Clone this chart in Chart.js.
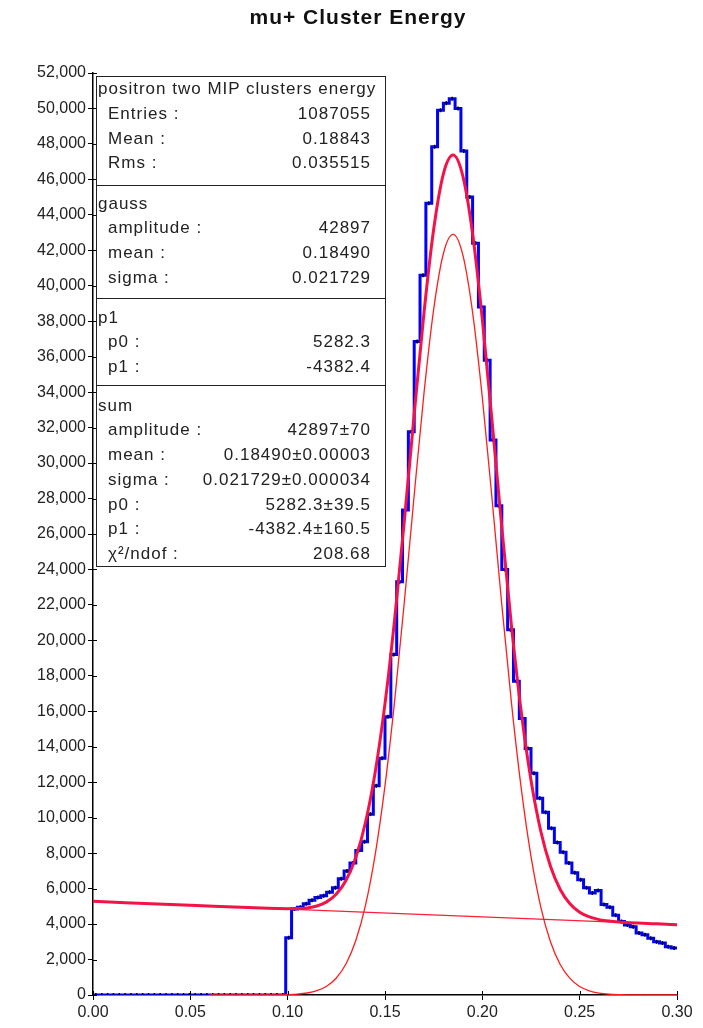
<!DOCTYPE html>
<html>
<head>
<meta charset="utf-8">
<title>mu+ Cluster Energy</title>
<script src="https://cdn.jsdelivr.net/npm/chart.js@4.4.1/dist/chart.umd.min.js"></script>
<style>
  body { margin: 0; background: #fff; }
  #wrap { position: relative; width: 703px; height: 1028px; font-family: "Liberation Sans", Arial, sans-serif; }
  #title { position: absolute; left: 0; width: 716px; top: 5px; text-align: center;
           font-weight: bold; font-size: 21px; letter-spacing: 1px; color: #111; }
  #stats { position: absolute; left: 96px; top: 76px; width: 290px; height: 491px;
           box-sizing: border-box; border: 1.5px solid #222; background: #fff;
           font-size: 17px; letter-spacing: 1px; color: #222; }
  .sec { position: absolute; left: 0; right: 0; box-sizing: border-box; }
  .sec + .sec { border-top: 1.5px solid #222; }
  .hd { padding-left: 1px; }
  .row { display: flex; justify-content: space-between; padding-left: 11px; padding-right: 14px; }
</style>
</head>
<body>
<div id="wrap">
  <canvas id="chart" width="703" height="1028"></canvas>
  <div id="title">mu+ Cluster Energy</div>
  <div id="stats"></div>
</div>
<script>
// histogram: 100 bins of 0.003 from 0 to 0.3
var binLow = 0.0;
var binWidth = 0.003;
var counts = [
  0, 0, 0, 0, 0, 0, 0, 0, 0, 0,
  0, 0, 0, 0, 0, 0, 0, 0, 0, 0,
  0, 0, 0, 0, 0, 0, 0, 0, 0, 0,
  0, 0, 0, 3230, 4850, 4950, 5150, 5350, 5500, 5600,
  5800, 6050, 6550, 7000, 7450, 8150, 8650, 10200, 11800, 13350,
  15700, 19200, 23300, 27350, 31770, 36850, 40600, 44650, 47840, 49900,
  50300, 50550, 50000, 47600, 45000, 42400, 38800, 35800, 31300, 27600,
  24000, 20600, 17700, 15600, 13900, 12500, 11100, 10300, 9400, 8600,
  8050, 7450, 6900, 6500, 6050, 5750, 5900, 5100, 4950, 4500,
  4150, 3950, 3850, 3500, 3400, 3200, 3000, 2930, 2720, 2650
];

// fitted curves
var sumX = [0, 0.05, 0.09, 0.095, 0.10, 0.105, 0.11, 0.115, 0.12, 0.125, 0.13, 0.135, 0.14, 0.145,
  0.15, 0.155, 0.16, 0.165, 0.17, 0.175, 0.18, 0.185, 0.19, 0.195, 0.20, 0.205, 0.21, 0.215,
  0.22, 0.225, 0.23, 0.235, 0.24, 0.245, 0.25, 0.255, 0.26, 0.265, 0.27, 0.28, 0.29, 0.30];
var sumY = [5282, 5063, 4891, 4874, 4865, 4872, 4913, 5021, 5252, 5695, 6475, 7762, 9741, 12595,
  16433, 21245, 26828, 32761, 38446, 43183, 46314, 47369, 46181, 42932, 38100, 32349, 26375, 20773,
  15954, 12111, 9250, 7258, 5953, 5145, 4669, 4401, 4252, 4169, 4119, 4058, 4012, 3968];

var gaussX = [0.06, 0.09, 0.095, 0.10, 0.105, 0.11, 0.115, 0.12, 0.125, 0.13, 0.135, 0.14, 0.145,
  0.15, 0.155, 0.16, 0.165, 0.17, 0.175, 0.18, 0.185, 0.19, 0.195, 0.20, 0.205, 0.21, 0.215,
  0.22, 0.225, 0.23, 0.235, 0.24, 0.245, 0.25, 0.255, 0.26, 0.265, 0.27, 0.275, 0.28, 0.30];
var gaussY = [0, 3, 8, 21, 50, 113, 243, 496, 960, 1763, 3071, 5072, 7948,
  11808, 16642, 22247, 28202, 33909, 38668, 41820, 42897, 41731, 38504, 33694, 27965, 22013, 16433,
  11636, 7815, 4976, 3006, 1722, 936, 482, 236, 109, 48, 20, 8, 3, 0];

var lineX = [0, 0.30];
var lineY = [5282, 3968];

var xTicks = [0, 0.05, 0.10, 0.15, 0.20, 0.25, 0.30];
var yTicks = [];
for (var t = 0; t <= 52000; t += 2000) yTicks.push(t);

var statSections = [
  { head: 'positron two MIP clusters energy', top: 0, height: 108, pad: 0, rows: [
    ['Entries :', '1087055'], ['Mean :', '0.18843'], ['Rms :', '0.035515']] },
  { head: 'gauss', top: 108, height: 113, pad: 5.6, rows: [
    ['amplitude :', '42897'], ['mean :', '0.18490'], ['sigma :', '0.021729']] },
  { head: 'p1', top: 221, height: 87, pad: 6.6, rows: [
    ['p0 :', '5282.3'], ['p1 :', '-4382.4']] },
  { head: 'sum', top: 308, height: 183, pad: 7.6, rows: [
    ['amplitude :', '42897\u00b170'], ['mean :', '0.18490\u00b10.00003'],
    ['sigma :', '0.021729\u00b10.000034'], ['p0 :', '5282.3\u00b139.5'],
    ['p1 :', '-4382.4\u00b1160.5'], ['\u03c7\u00b2/ndof :', '208.68']] }
];

// stats box
var box = document.getElementById('stats');
statSections.forEach(function (s) {
  var d = document.createElement('div');
  d.className = 'sec';
  d.style.top = s.top + 'px';
  d.style.height = s.height + 'px';
  d.style.paddingTop = s.pad + 'px';
  d.style.lineHeight = '24.75px';
  var h = document.createElement('div');
  h.className = 'hd';
  h.textContent = s.head;
  d.appendChild(h);
  s.rows.forEach(function (r) {
    var row = document.createElement('div');
    row.className = 'row';
    var a = document.createElement('span'); a.textContent = r[0];
    var b = document.createElement('span'); b.textContent = r[1];
    row.appendChild(a); row.appendChild(b);
    d.appendChild(row);
  });
  box.appendChild(d);
});

function pts(xs, ys) {
  return xs.map(function (x, i) { return { x: x, y: ys[i] }; });
}

// step points: one per bin low edge, plus the closing high edge
var histPts = counts.map(function (c, i) { return { x: binLow + i * binWidth, y: c }; });
histPts.push({ x: binLow + counts.length * binWidth, y: counts[counts.length - 1] });
var markPts = counts.map(function (c, i) { return { x: binLow + (i + 0.5) * binWidth, y: c }; });

var innerTicks = {
  id: 'innerTicks',
  afterDatasetsDraw: function (chart) {
    var ctx = chart.ctx, a = chart.chartArea;
    var sx = chart.scales.x, sy = chart.scales.y;
    ctx.save();
    ctx.strokeStyle = '#000';
    ctx.lineWidth = 1;
    ctx.beginPath();
    yTicks.forEach(function (v) {
      var p = Math.round(sy.getPixelForValue(v)) + 0.5;
      ctx.moveTo(a.left, p); ctx.lineTo(a.left + 4, p);
    });
    xTicks.forEach(function (v) {
      var p = Math.round(sx.getPixelForValue(v)) + 0.5;
      ctx.moveTo(p, a.bottom); ctx.lineTo(p, a.bottom - 4);
    });
    ctx.stroke();
    ctx.restore();
  }
};

var ctx = document.getElementById('chart').getContext('2d');
var chart = new Chart(ctx, {
  type: 'line',
  data: {
    datasets: [
      { label: 'gauss', data: pts(gaussX, gaussY), borderColor: 'rgb(255,30,30)', borderWidth: 1.3,
        pointRadius: 0, cubicInterpolationMode: 'monotone', order: 0 },
      { label: 'sum', data: pts(sumX, sumY), borderColor: 'rgb(245,18,70)', borderWidth: 3,
        pointRadius: 0, cubicInterpolationMode: 'monotone', order: 1 },
      { label: 'p1', data: pts(lineX, lineY), borderColor: 'rgb(255,30,60)', borderWidth: 1.3,
        pointRadius: 0, order: 2 },
      { label: 'marks', data: markPts, showLine: false, pointStyle: 'line', rotation: 90,
        pointRadius: 2, pointBorderColor: '#000', pointBorderWidth: 1.5, order: 3 },
      { label: 'positron two MIP clusters energy', data: histPts, stepped: 'before',
        borderColor: '#0000ff', borderWidth: 3, pointRadius: 0, order: 4 }
    ]
  },
  options: {
    responsive: false,
    animation: false,
    devicePixelRatio: 1,
    layout: { padding: { left: 0, right: 26, top: 73, bottom: 0 } },
    plugins: { legend: { display: false }, tooltip: { enabled: false }, title: { display: false } },
    scales: {
      x: {
        type: 'linear', min: 0, max: 0.3,
        afterBuildTicks: function (s) { s.ticks = xTicks.map(function (v) { return { value: v }; }); },
        afterFit: function (s) { s.height = 33; },
        grid: { drawOnChartArea: false, tickLength: 5, color: '#000' },
        border: { color: '#000', width: 1.5 },
        ticks: { color: '#222', padding: 3, maxRotation: 0, autoSkip: false,
          font: { family: 'Liberation Sans', size: 16 },
          callback: function (v) { return Number(v).toFixed(2); } }
      },
      y: {
        min: 0, max: 52000,
        afterBuildTicks: function (s) { s.ticks = yTicks.map(function (v) { return { value: v }; }); },
        afterFit: function (s) { s.width = 93; },
        grid: { drawOnChartArea: false, tickLength: 5, color: '#000' },
        border: { color: '#000', width: 1.5 },
        ticks: { color: '#222', padding: 2, autoSkip: false,
          font: { family: 'Liberation Sans', size: 16 },
          callback: function (v) { return Number(v).toLocaleString('en-US'); } }
      }
    }
  },
  plugins: [innerTicks]
});
</script>
</body>
</html>
